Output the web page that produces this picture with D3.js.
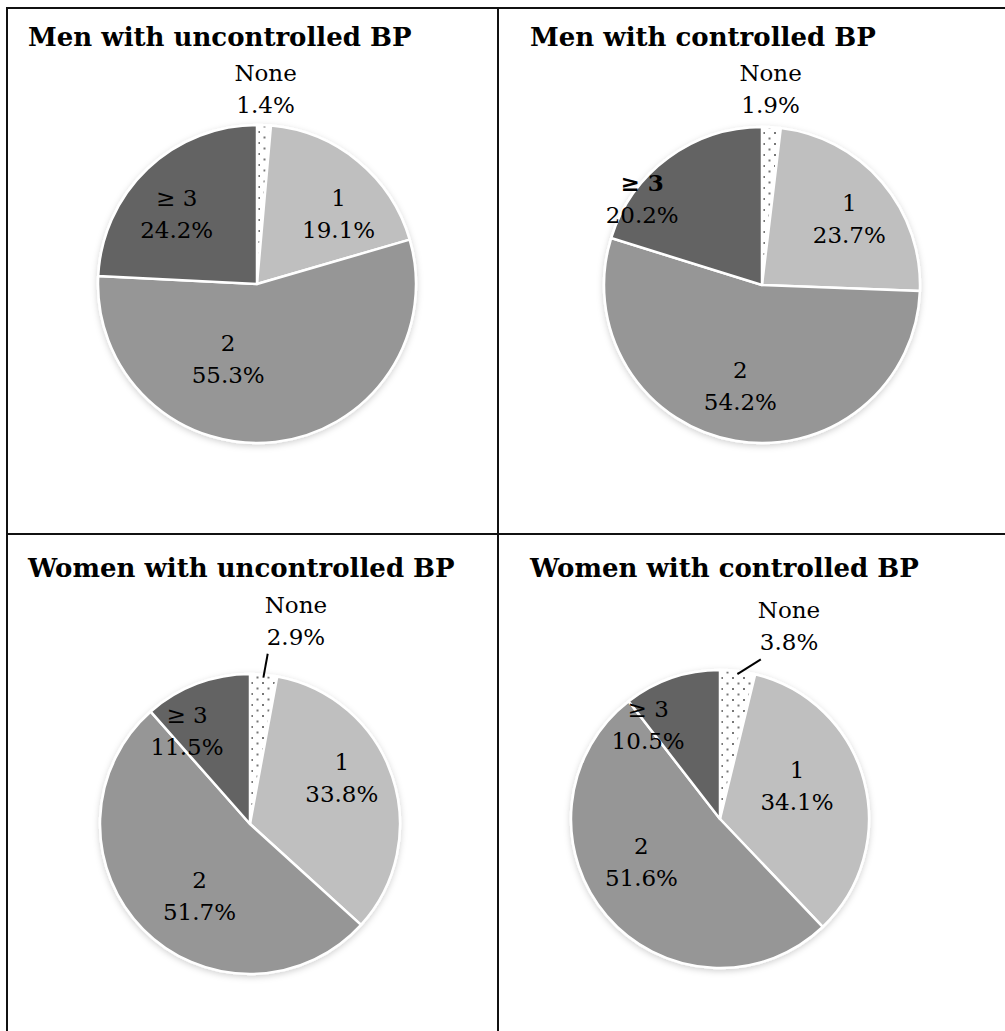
<!DOCTYPE html>
<html>
<head>
<meta charset="utf-8">
<script src="https://cdn.jsdelivr.net/npm/d3@7"></script>
<style>
  body { margin: 0; background: #fff; }
  svg { display: block; }
</style>
</head>
<body>
<svg width="1005" height="1031"></svg>
<script>
// data
const categories = ["None", "1", "2", "\u2265 3"];
const titles = [
    "Men with uncontrolled BP",
    "Men with controlled BP",
    "Women with uncontrolled BP",
    "Women with controlled BP"
];
const menUncontrolled = [1.4, 19.1, 55.3, 24.2];
const menControlled = [1.9, 23.7, 54.2, 20.2];
const womenUncontrolled = [2.9, 33.8, 51.7, 11.5];
const womenControlled = [3.8, 34.1, 51.6, 10.5];
const seriesList = [menUncontrolled, menControlled, womenUncontrolled, womenControlled];

// layout
const FONT = "'DejaVu Serif', serif",
    LABEL_R = 0.66,
    OUT_R = 36,
    LINE_H = 32;

const panels = [
    {cx: 257, cy: 284, r: 159, tx: 28, ty: 46, leader: false,
        shift: [[0, 0], [15, 11], [-41, -29], [-8, 6]]},
    {cx: 762, cy: 285, r: 158, tx: 530, ty: 46, leader: false, boldThree: true,
        shift: [[-3, -2], [8, 2], [-4, -2], [-58, -2]]},
    {cx: 250, cy: 824, r: 150, tx: 28, ty: 577, leader: true,
        shift: [[29, -18], [-2, -14], [20, 2], [-28, 0]]},
    {cx: 720, cy: 819, r: 149, tx: 530, ty: 577, leader: true,
        shift: [[47, -9], [-18, -8], [-4, -21], [-40, -1]]}
];

const color = d3.scaleOrdinal()
    .domain(categories)
    .range(["url(#dots)", "#bfbfbf", "#969696", "#636363"]);

const svg = d3.select("svg");
const defs = svg.append("defs");

const pat = defs.append("pattern")
    .attr("id", "dots")
    .attr("patternUnits", "userSpaceOnUse")
    .attr("width", 11)
    .attr("height", 11);
pat.append("rect").attr("width", 11).attr("height", 11).attr("fill", "#fff");
pat.append("rect").attr("x", 1).attr("y", 1).attr("width", 2).attr("height", 2).attr("fill", "#777");
pat.append("rect").attr("x", 6.5).attr("y", 6.5).attr("width", 2).attr("height", 2).attr("fill", "#777");

const shadow = defs.append("filter")
    .attr("id", "shadow")
    .attr("x", "-10%").attr("y", "-10%")
    .attr("width", "120%").attr("height", "120%");
shadow.append("feDropShadow")
    .attr("dx", 0).attr("dy", 2)
    .attr("stdDeviation", 3)
    .attr("flood-color", "#000")
    .attr("flood-opacity", 0.18);

// table borders
const borders = svg.append("g").attr("stroke", "#111").attr("stroke-width", 2);
borders.append("line").attr("x1", 6).attr("x2", 1005).attr("y1", 8).attr("y2", 8);
borders.append("line").attr("x1", 7).attr("x2", 7).attr("y1", 7).attr("y2", 1031);
borders.append("line").attr("x1", 498).attr("x2", 498).attr("y1", 7).attr("y2", 1031);
borders.append("line").attr("x1", 6).attr("x2", 1005).attr("y1", 534).attr("y2", 534);

const pie = d3.pie().sort(null).value((d) => d.value);

panels.forEach((p, i) => {
    const rows = categories.map((c, k) => ({cat: c, value: seriesList[i][k]}));
    const arcs = pie(rows);
    const arc = d3.arc().innerRadius(0).outerRadius(p.r);
    const labelArc = d3.arc().innerRadius(p.r * LABEL_R).outerRadius(p.r * LABEL_R);
    const outArc = d3.arc().innerRadius(p.r + OUT_R).outerRadius(p.r + OUT_R);

    const g = svg.append("g");

    g.append("text")
        .attr("x", p.tx)
        .attr("y", p.ty)
        .attr("font-family", FONT)
        .attr("font-weight", "bold")
        .attr("font-size", 26)
        .attr("fill", "#000")
        .text(titles[i]);

    const pg = g.append("g")
        .attr("transform", `translate(${p.cx},${p.cy})`);

    pg.append("g")
        .attr("filter", "url(#shadow)")
        .selectAll("path")
        .data(arcs)
        .join("path")
        .attr("d", arc)
        .attr("fill", (d) => color(d.data.cat))
        .attr("stroke", "#fff")
        .attr("stroke-width", 2.5)
        .attr("stroke-linejoin", "round");

    arcs.forEach((d, k) => {
        const base = k === 0 ? outArc.centroid(d) : labelArc.centroid(d);
        const x = base[0] + p.shift[k][0],
            y = base[1] + p.shift[k][1];
        const t = pg.append("text")
            .attr("text-anchor", "middle")
            .attr("font-family", FONT)
            .attr("font-size", 23)
            .attr("fill", "#000");
        t.append("tspan")
            .attr("x", x)
            .attr("y", y - 8)
            .attr("font-weight", k === 3 && p.boldThree ? "bold" : null)
            .text(d.data.cat);
        const pct = t.append("tspan")
            .attr("x", x)
            .attr("y", y - 8 + LINE_H)
            .text(d3.format(".1f")(d.data.value) + "%");

        if(k === 0 && p.leader) {
            const a = (d.startAngle + d.endAngle) / 2,
                bb = pct.node().getBBox();
            pg.append("line")
                .attr("x1", Math.sin(a) * (p.r - 3))
                .attr("y1", -Math.cos(a) * (p.r - 3))
                .attr("x2", bb.x + 1)
                .attr("y2", bb.y + bb.height + 4)
                .attr("stroke", "#000")
                .attr("stroke-width", 2);
        }
    });
});
</script>
</body>
</html>
